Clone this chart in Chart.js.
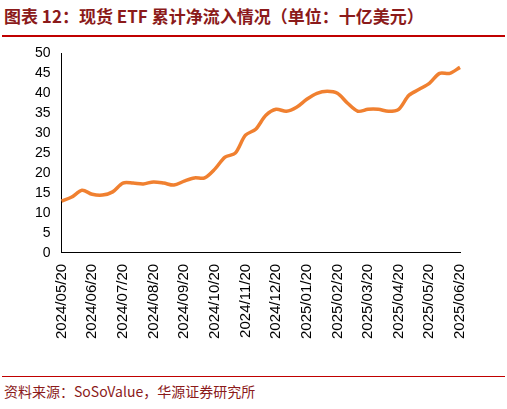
<!DOCTYPE html>
<html><head><meta charset="utf-8">
<script src="https://cdn.jsdelivr.net/npm/chart.js@4"></script>
<style>
body{margin:0;width:507px;height:409px;background:#fff;font-family:"Noto Sans CJK SC",sans-serif;position:relative;overflow:hidden}
#t{position:absolute;left:4px;top:3px;font-size:17px;font-weight:bold;color:#8b1a1a;white-space:nowrap}
#l1{position:absolute;left:2px;right:2px;top:35px;height:2px;background:#c00000}
#l2{position:absolute;left:2px;right:2px;top:376px;height:1px;background:#c00000}
#f{position:absolute;left:4px;top:381px;font-size:14px;color:#8b1a1a;white-space:nowrap}
#c{position:absolute;left:0;top:42px}
</style></head><body>
<div id="t">图表 12：现货 ETF 累计净流入情况（单位：十亿美元）</div>
<div id="l1"></div>
<canvas id="c" width="490" height="300"></canvas>
<div id="l2"></div>
<div id="f">资料来源：SoSoValue，华源证券研究所</div>
<script>
const dates=["2024/05/20","2024/05/30","2024/06/10","2024/06/20","2024/06/30","2024/07/10","2024/07/20","2024/07/30","2024/08/10","2024/08/20","2024/08/30","2024/09/10","2024/09/20","2024/09/30","2024/10/10","2024/10/20","2024/10/30","2024/11/10","2024/11/20","2024/11/30","2024/12/10","2024/12/20","2024/12/31","2025/01/10","2025/01/20","2025/01/30","2025/02/10","2025/02/20","2025/02/28","2025/03/10","2025/03/20","2025/03/30","2025/04/10","2025/04/20","2025/04/30","2025/05/10","2025/05/20","2025/05/30","2025/06/10","2025/06/20"];
const inflow=[13,14,15.7,14.7,14.5,15.3,17.5,17.5,17.3,17.8,17.5,17,18,18.8,18.8,21,24,25,29.5,31,34.5,36,35.5,36.5,38.5,40,40.5,40,37.5,35.5,36,36,35.5,36,39.5,41,42.5,45,45,46.5];
new Chart(document.getElementById('c'),{type:'line',
data:{labels:dates,datasets:[{data:inflow,borderColor:'#f08030',borderWidth:3.5,pointRadius:0,tension:0.3}]},
options:{responsive:false,animation:false,plugins:{legend:{display:false},tooltip:{enabled:false}},
layout:{padding:{right:30,left:32,top:2}},
scales:{x:{grid:{display:false},border:{color:'#000'},ticks:{autoSkip:false,maxRotation:90,minRotation:90,color:'#000',font:{size:15,family:'Liberation Sans'},
callback:function(v){const s=dates[v];return s.endsWith('/20')?s:null;}}},
y:{min:0,max:50,grid:{display:false},border:{color:'#000'},ticks:{stepSize:5,color:'#000',font:{size:14,family:'Liberation Sans'}}}}}});
</script></body></html>
